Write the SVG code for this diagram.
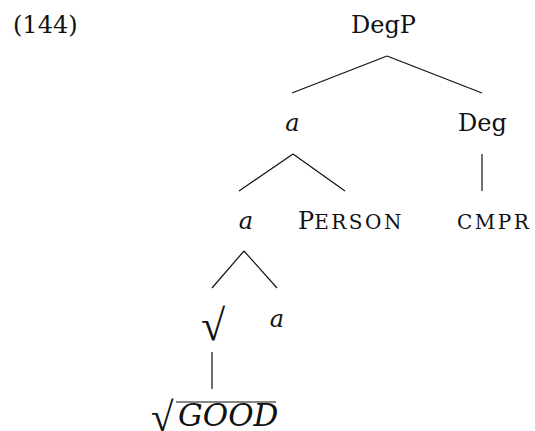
<svg xmlns="http://www.w3.org/2000/svg" width="535" height="431" viewBox="0 0 535 431">
<style>
text{font-family:"DejaVu Serif","Liberation Serif",serif;font-size:24px;fill:#111;}
.c{text-anchor:middle;}
.i{font-style:italic;}
.sc{font-size:20px;letter-spacing:2.5px;}
.rad{font-family:"Liberation Serif",serif;}
line{stroke:#111;stroke-width:1.2;}
</style>
<rect width="535" height="431" fill="#fff"/>
<text id="label" x="13" y="33">(144)</text>
<g id="connectors">
<line x1="387" y1="56" x2="292" y2="93"/>
<line x1="387" y1="56" x2="482" y2="93"/>
<line x1="293" y1="154" x2="239" y2="191"/>
<line x1="293" y1="154" x2="345" y2="191"/>
<line x1="482" y1="154" x2="482" y2="191"/>
<line x1="244" y1="251" x2="212" y2="288"/>
<line x1="244" y1="251" x2="277" y2="288"/>
<line x1="212" y1="352" x2="212" y2="389"/>
</g>
<g id="n-degp"><text class="c" x="383.5" y="33">DegP</text></g>
<g id="n-a1"><text class="c i" x="292.5" y="131">a</text></g>
<g id="n-deg"><text class="c" x="482.5" y="131">Deg</text></g>
<g id="n-a2"><text class="c i" x="246" y="229">a</text></g>
<g id="n-person"><text x="298" y="229">P<tspan class="sc">ERSON</tspan></text></g>
<g id="n-cmpr"><text class="sc" x="457" y="229">CMPR</text></g>
<g id="n-root"><text class="c rad" x="213" y="340" style="font-size:44px">√</text></g>
<g id="n-a3"><text class="c i" x="277" y="327">a</text></g>
<g id="n-good"><text class="rad" x="151" y="431" style="font-size:41px">√</text><text class="i" x="178" y="426" style="font-size:31px">GOOD</text><line x1="176" y1="402" x2="276" y2="402"/></g>
</svg>
